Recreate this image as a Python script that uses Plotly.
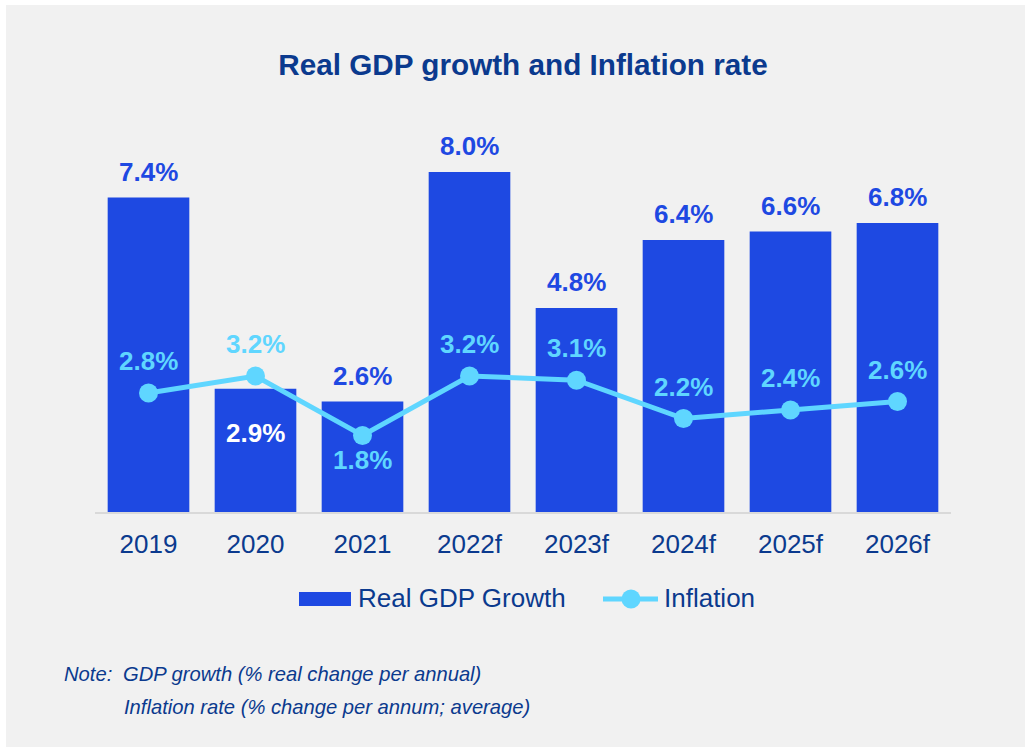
import plotly.graph_objects as go

# ---- data -------------------------------------------------------------
years = ["2019", "2020", "2021", "2022f", "2023f", "2024f", "2025f", "2026f"]
gdp_growth = [7.4, 2.9, 2.6, 8.0, 4.8, 6.4, 6.6, 6.8]
inflation = [2.8, 3.2, 1.8, 3.2, 3.1, 2.2, 2.4, 2.6]

# label placement per point (style only)
gdp_label_pos = ["above", "inside", "above", "above", "above", "above", "above", "above"]
infl_label_pos = ["above", "above", "below", "above", "above", "above", "above", "above"]

# ---- style ------------------------------------------------------------
FONT = "Liberation Sans, Arial, sans-serif"
NAVY = "#0b3a8e"
BAR_BLUE = "#1e49e2"
CYAN = "#5fd6ff"
PANEL = "#f1f1f1"

W, H = 1026, 747
M_L, M_R, M_T, M_B = 95, 75, 100, 235
PLOT_W = W - M_L - M_R
PLOT_H = H - M_T - M_B
PX_PER_UNIT = 42.5
Y_MAX = PLOT_H / PX_PER_UNIT


def px_x(px):
    return (px - M_L) / PLOT_W


def px_y(py):
    return (H - M_B - py) / PLOT_H


fig = go.Figure()

fig.add_trace(go.Bar(
    x=years, y=gdp_growth, name="Real GDP Growth",
    marker=dict(color=BAR_BLUE, line=dict(width=0)),
    showlegend=False, hoverinfo="skip",
))

fig.add_trace(go.Scatter(
    x=years, y=inflation, name="Inflation", mode="lines+markers",
    line=dict(color=CYAN, width=5),
    marker=dict(color=CYAN, size=19),
    showlegend=False, hoverinfo="skip",
))

# value labels: on a category axis a numeric x is the category index
annotations = []
for i, (v, pos) in enumerate(zip(gdp_growth, gdp_label_pos)):
    if pos == "inside":
        shift, col = -44, "white"
    else:
        shift, col = 26, BAR_BLUE
    annotations.append(dict(
        x=i, y=v, xref="x", yref="y", text=f"{v:.1f}%", showarrow=False,
        yshift=shift, yanchor="middle",
        font=dict(family=FONT, size=26, color=col, weight="bold"),
    ))

for i, (v, pos) in enumerate(zip(inflation, infl_label_pos)):
    shift = 32 if pos == "above" else -24
    annotations.append(dict(
        x=i, y=v, xref="x", yref="y", text=f"{v:.1f}%", showarrow=False,
        yshift=shift, yanchor="middle",
        font=dict(family=FONT, size=26, color=CYAN, weight="bold"),
    ))

# legend texts
annotations.append(dict(
    x=px_x(356), y=px_y(598), xref="paper", yref="paper", text="Real GDP Growth",
    showarrow=False, xanchor="left", yanchor="middle",
    font=dict(family=FONT, size=26, color=NAVY),
))
annotations.append(dict(
    x=px_x(662), y=px_y(598), xref="paper", yref="paper", text="Inflation",
    showarrow=False, xanchor="left", yanchor="middle",
    font=dict(family=FONT, size=26, color=NAVY),
))

# notes
annotations.append(dict(
    x=px_x(62), y=px_y(674), xref="paper", yref="paper", text="Note:",
    showarrow=False, xanchor="left", yanchor="middle",
    font=dict(family=FONT, size=20.2, color=NAVY, style="italic"),
))
annotations.append(dict(
    x=px_x(121), y=px_y(674), xref="paper", yref="paper",
    text="GDP growth (% real change per annual)",
    showarrow=False, xanchor="left", yanchor="middle",
    font=dict(family=FONT, size=20.2, color=NAVY, style="italic"),
))
annotations.append(dict(
    x=px_x(122), y=px_y(707), xref="paper", yref="paper",
    text="Inflation rate (% change per annum; average)",
    showarrow=False, xanchor="left", yanchor="middle",
    font=dict(family=FONT, size=20.2, color=NAVY, style="italic"),
))

shapes = [
    # background panel
    dict(type="rect", xref="paper", yref="paper",
         x0=px_x(6), x1=px_x(1025), y0=px_y(747), y1=px_y(5),
         fillcolor=PANEL, line=dict(width=0), layer="below"),
    # legend: bar swatch
    dict(type="rect", xref="paper", yref="paper",
         x0=px_x(299), x1=px_x(351), y0=px_y(606), y1=px_y(592),
         fillcolor=BAR_BLUE, line=dict(width=0)),
    # legend: line swatch
    dict(type="line", xref="paper", yref="paper",
         x0=px_x(603), x1=px_x(658), y0=px_y(599), y1=px_y(599),
         line=dict(color=CYAN, width=5)),
    dict(type="circle", xref="paper", yref="paper",
         x0=px_x(621.5), x1=px_x(640.5), y0=px_y(608.5), y1=px_y(589.5),
         fillcolor=CYAN, line=dict(width=0)),
]

fig.update_layout(
    width=W, height=H,
    margin=dict(l=M_L, r=M_R, t=M_T, b=M_B),
    paper_bgcolor="white",
    plot_bgcolor="rgba(0,0,0,0)",
    font=dict(family=FONT, color=NAVY),
    title=dict(
        text="<b>Real GDP growth and Inflation rate</b>",
        x=0.5, xref="paper", xanchor="center",
        y=1 - 65 / H, yref="container", yanchor="middle",
        font=dict(family=FONT, size=29.7, color=NAVY),
    ),
    bargap=0.237,
    showlegend=False,
    xaxis=dict(
        type="category", categoryorder="array", categoryarray=years,
        range=[-0.5, len(years) - 0.5], fixedrange=True,
        showgrid=False, zeroline=False,
        showline=True, linecolor="#d9d9d9", linewidth=2,
        ticks="outside", ticklen=8, tickcolor="rgba(0,0,0,0)",
        tickfont=dict(family=FONT, size=26, color=NAVY),
    ),
    yaxis=dict(visible=False, range=[0, Y_MAX], fixedrange=True),
    annotations=annotations,
    shapes=shapes,
)

fig.write_html("out.html")
